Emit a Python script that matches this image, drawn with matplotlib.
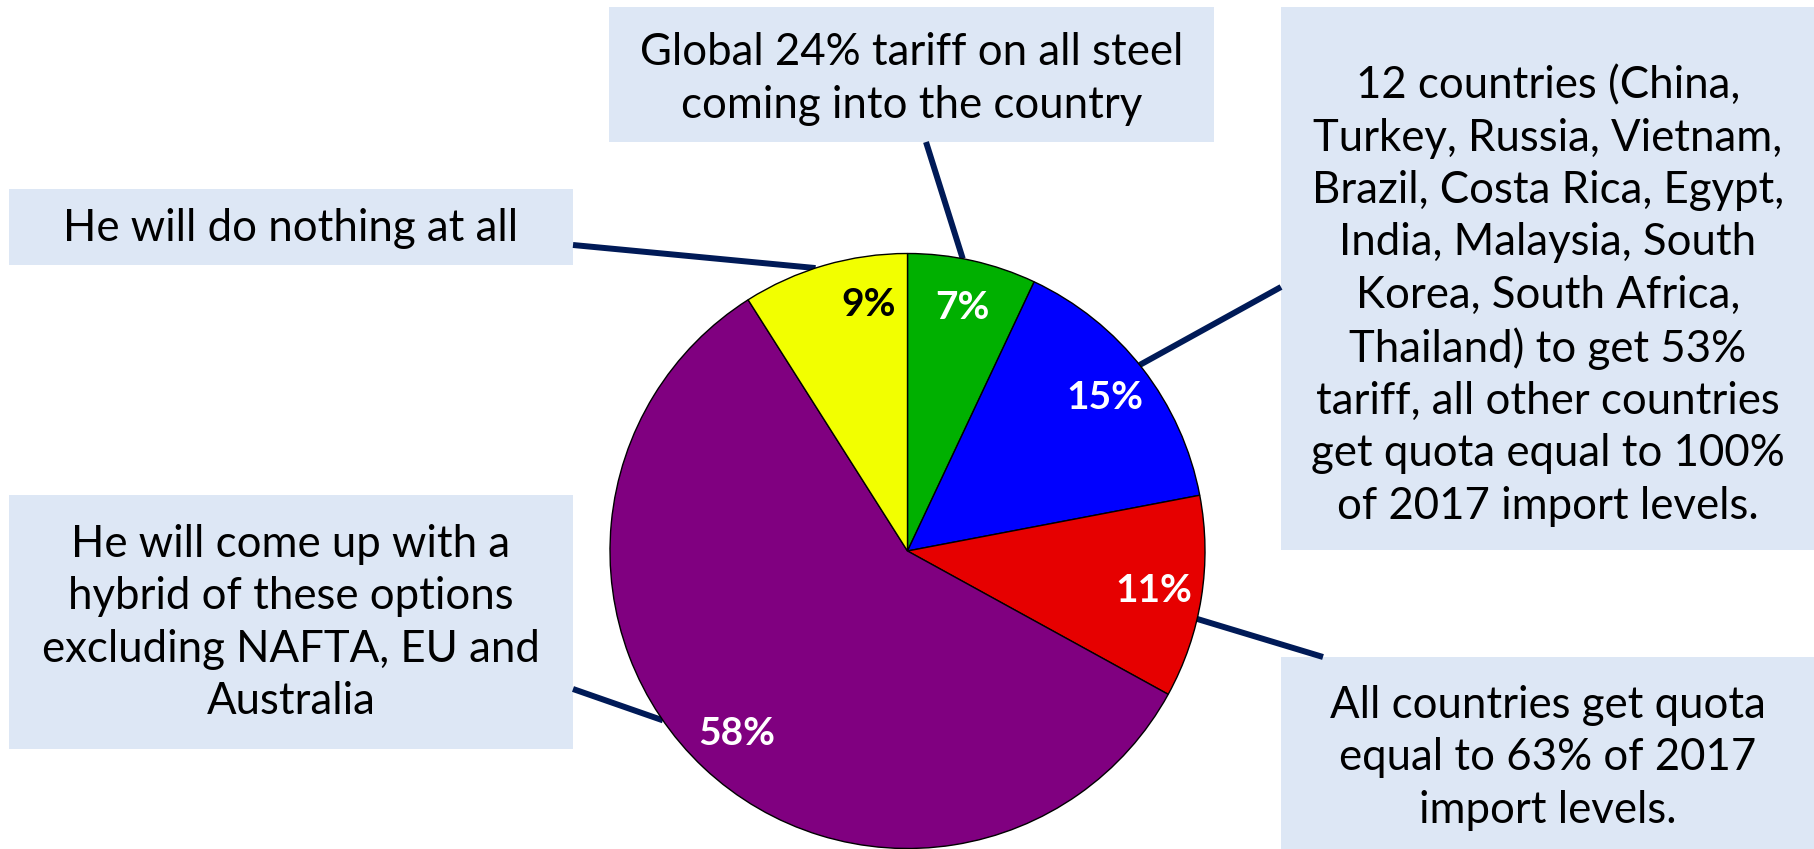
import numpy as np
import matplotlib
matplotlib.use("Agg")
import matplotlib.pyplot as plt
from matplotlib.patches import Rectangle

plt.rcParams['font.family'] = ['Lato', 'DejaVu Sans']

# survey answers, clockwise from 12 o'clock
shares = [7, 15, 11, 58, 9]
colors = ['#00b000', '#0000ff', '#e60000', '#800080', '#f2ff00']
pct_colors = ['white', 'white', 'white', 'white', 'black']
answers = [
    "Global 24% tariff on all steel\ncoming into the country",
    "12 countries (China,\nTurkey, Russia, Vietnam,\nBrazil, Costa Rica, Egypt,\nIndia, Malaysia, South\n"
    "Korea, South Africa,\nThailand) to get 53%\ntariff, all other countries\nget quota equal to 100%\n"
    "of 2017 import levels.",
    "All countries get quota\nequal to 63% of 2017\nimport levels.",
    "He will come up with a\nhybrid of these options\nexcluding NAFTA, EU and\nAustralia",
    "He will do nothing at all",
]

W, H = 1815, 849
fig = plt.figure(figsize=(W / 100, H / 100), dpi=100)
ax = fig.add_axes([0, 0, 1, 1])

def fy(y):
    # pixel rows are counted from the top
    return H - y

cx, cy, R = 907.5, fy(551), 297.5

wedges, texts, autotexts = ax.pie(
    shares, colors=colors, startangle=90, counterclock=False,
    center=(cx, cy), radius=R, autopct='%d%%', pctdistance=0.84,
    wedgeprops=dict(edgecolor='black', linewidth=1.0), frame=True,
    textprops=dict(fontsize=28, fontweight='bold'))
ax.set_xlim(0, W)
ax.set_ylim(0, H)
ax.set_aspect('equal')
ax.axis('off')
for w in wedges:
    w.set_zorder(3)
for t, c in zip(autotexts, pct_colors):
    t.set_color(c)
    t.set_zorder(4)

# the small yellow slice label sits nearer the top
ang = np.deg2rad(99)
autotexts[4].set_position((cx + 0.84 * R * np.cos(ang), cy + 0.84 * R * np.sin(ang)))

# callout boxes: (x0, y0, x1, y1) in pixels from the top left, text centre y, anchor, edge angle
boxes = [
    ((609, 7, 1214, 142), 79, (926, 142), 79.3),
    ((1281, 7, 1815, 550), 296, (1281, 287), 38.7),
    ((1281, 657, 1815, 849), 758, (1323, 657), -13.2),
    ((9, 495, 573, 749), 623, (573, 689), -145.3),
    ((9, 189, 573, 265), 228, (573, 245), 108.0),
]

for label, (rect, ty, anchor, edge_deg) in zip(answers, boxes):
    x0, y0, x1, y1 = rect
    ax.add_patch(Rectangle((x0, fy(y1)), x1 - x0, y1 - y0,
                           facecolor='#dde7f5', edgecolor='none', zorder=1))
    ax.text((x0 + x1) / 2, fy(ty), label, ha='center', va='center',
            fontsize=31.5, linespacing=1.34, color='black', zorder=2)
    a = np.deg2rad(edge_deg)
    ax.plot([anchor[0], cx + R * np.cos(a)], [fy(anchor[1]), cy + R * np.sin(a)],
            color='#001a57', linewidth=4.3, solid_capstyle='butt', zorder=2)

fig.savefig('out.png', dpi=100)
